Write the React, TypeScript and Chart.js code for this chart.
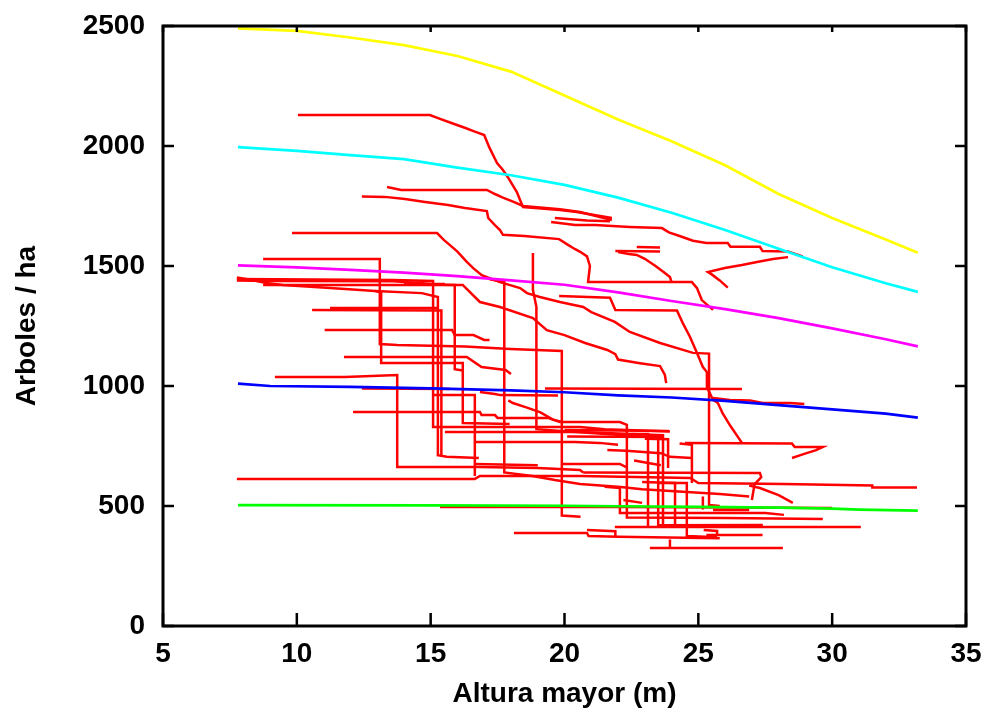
import React, { useEffect, useRef } from "react";
import { Chart, registerables } from "chart.js";

Chart.register(...registerables);

type Pt = [number, number];

// Axis ticks
const xTicks = [5, 10, 15, 20, 25, 30, 35];
const yTicks = [0, 500, 1000, 1500, 2000, 2500];
const xTitle = "Altura mayor (m)";
const yTitle = "Arboles / ha";

// Reference curves
const yellowCurve: Pt[] = [[7.8,2490],[10,2480],[12,2452],[14,2420],[16,2375],[18,2310],[20,2210],[22,2110],[24,2020],[26,1920],[28,1800],[30,1700],[32,1610],[33.2,1555]];
const cyanCurve: Pt[] = [[7.8,1995],[10,1980],[12,1962],[14,1945],[16,1910],[18,1878],[20,1838],[22,1785],[24,1722],[26,1650],[28,1572],[30,1495],[32,1428],[33.2,1392]];
const magentaCurve: Pt[] = [[7.8,1503],[10,1494],[12,1484],[14,1472],[16,1458],[18,1440],[20,1422],[22,1390],[24,1354],[26,1320],[28,1283],[30,1240],[32,1195],[33.2,1165]];
const blueCurve: Pt[] = [[7.8,1010],[9,1000],[12,996],[15,990],[18,982],[20,974],[22,961],[24,952],[26,938],[28,920],[30,903],[32,885],[33.2,868]];
const greenCurve: Pt[] = [[7.8,504],[15,503],[20,501],[22,499],[25,496],[28,493],[30,489],[31,485],[33.2,481]];

// Observed stand trajectories (red)
const r01: Pt[] = [[10.04,2129],[14.97,2129],[15.3,2115],[15.8,2095],[16.3,2075],[16.6,2062],[17.0,2046],[17.2,1992],[17.48,1929],[17.7,1900],[17.9,1867],[18.22,1808],[18.34,1775],[18.45,1746],[19.83,1733],[20.46,1725],[21.77,1700]];
const r02: Pt[] = [[13.37,1829],[13.9,1817],[17.1,1817],[17.4,1800],[17.7,1785],[18.1,1767],[18.45,1750],[19.3,1742],[19.83,1736],[20.58,1725],[21.77,1692]];
const r03: Pt[] = [[12.43,1790],[13.29,1788],[14.04,1779],[14.79,1767],[15.65,1754],[16.28,1742],[17.1,1729],[17.15,1700],[17.4,1670],[17.59,1650],[17.7,1630],[18.5,1625],[19.8,1612],[20.1,1590],[20.4,1570],[20.6,1558],[20.84,1540],[20.95,1500],[20.88,1433],[24.76,1433],[24.95,1408],[25.13,1358],[25.55,1317]];
const r04: Pt[] = [[9.82,1637],[15.24,1637],[15.5,1608],[15.72,1587],[16.0,1560],[16.35,1517],[16.6,1490],[16.91,1462],[17.59,1433],[18.34,1408],[18.6,1387],[19.08,1371],[19.83,1350],[20.7,1329],[21.0,1308],[21.88,1267],[22.44,1225],[23.57,1179],[24.8,1138],[25.4,1135],[25.4,504],[25.8,500]];
const r05: Pt[] = [[19.8,1375],[21.7,1368],[21.9,1317],[24.2,1315],[24.42,1262],[24.69,1204],[24.95,1138],[25.17,1079],[25.32,1058],[25.32,996],[25.55,942],[25.73,929],[25.9,888],[26.2,833],[26.63,763]];
const r06: Pt[] = [[28.35,1537],[27.79,1529],[27.19,1517],[26.63,1504],[25.99,1492],[25.36,1475],[25.5,1465],[25.8,1440],[26.1,1410]];
const r07: Pt[] = [[19.5,1683],[20.4,1671],[21.14,1671],[22.44,1663],[23.64,1658],[23.9,1640],[24.3,1625],[24.8,1605],[25.3,1596],[26.1,1596],[26.2,1580],[27.3,1580],[27.4,1562],[28.35,1560],[28.9,1540]];
const r08: Pt[] = [[21.9,1562],[23.57,1560]];
const r09: Pt[] = [[22.7,1579],[23.57,1577]];
const r10: Pt[] = [[22.0,1558],[22.4,1550],[22.7,1546],[23.0,1530],[23.4,1500],[23.7,1475],[23.94,1454],[24.0,1433]];
const r11: Pt[] = [[7.76,1452],[8.32,1442],[8.85,1429],[9.48,1421],[11.24,1408],[12.92,1396],[13.15,1390],[13.15,1096],[16.2,1096],[16.2,846],[17.95,842]];
const r12: Pt[] = [[12.92,1396],[14.67,1387],[15.27,1371],[15.27,712],[15.6,705],[16.8,700]];
const r13: Pt[] = [[7.76,1446],[13.6,1442],[15.09,1438],[15.09,829],[20.58,829],[21.5,820],[23.94,810]];
const r14: Pt[] = [[7.76,1440],[9.0,1438],[13.6,1436],[15.1,1425],[15.53,1425]];
const r15: Pt[] = [[10.57,1317],[15.4,1315],[15.4,705]];
const r16: Pt[] = [[8.74,1421],[16.2,1421],[16.28,1412],[16.84,1350],[17.59,1329],[18.82,1283],[19.34,1233],[20.0,1212],[20.77,1179],[21.6,1150],[21.9,1133],[22.0,1110],[22.82,1095],[23.57,1083],[23.75,1046],[23.8,1012]];
const r17: Pt[] = [[14.0,1425],[15.9,1421],[15.9,1070],[16.2,1065]];
const r18: Pt[] = [[8.74,1529],[13.1,1529],[13.1,1175],[13.75,1171],[16.28,1165],[17.98,1154],[19.9,1146],[19.9,460],[20.6,455]];
const r19: Pt[] = [[11.04,1233],[15.8,1233],[15.9,1212],[16.6,1212],[17.0,1192],[17.2,1192]];
const r20: Pt[] = [[11.76,1121],[16.35,1121],[16.9,1079],[17.8,1067],[18.0,1050]];
const r21: Pt[] = [[17.9,940],[18.07,929],[18.6,910],[19.1,890],[19.57,860],[19.9,850]];
const r22: Pt[] = [[9.18,1038],[11.8,1038],[13.75,1046],[13.75,663],[16.8,662],[19.0,658],[20.58,650],[20.7,640]];
const r23: Pt[] = [[12.43,990],[15.72,988]];
const r24: Pt[] = [[19.27,990],[26.63,988]];
const r25: Pt[] = [[15.09,962],[16.65,962],[16.65,625]];
const r26: Pt[] = [[16.84,975],[17.4,967],[17.6,962],[19.76,960]];
const r27: Pt[] = [[12.1,892],[16.84,892],[16.9,879],[17.4,879],[17.5,867],[19.38,867],[19.83,850],[22.07,850],[22.33,838],[22.33,452],[26.0,450],[29.65,446]];
const r28: Pt[] = [[15.53,808],[20.58,808],[22.5,800],[23.12,800],[23.12,413]];
const r29: Pt[] = [[16.65,767],[20.4,767],[21.3,763],[22.0,755]];
const r30: Pt[] = [[16.65,675],[19.0,670]];
const r31: Pt[] = [[17.2,1445],[17.75,1433],[17.75,640],[18.8,625],[19.64,608],[20.58,592],[22.1,579],[22.9,570],[25.8,550],[26.9,540]];
const r32: Pt[] = [[18.82,1554],[18.82,1400],[18.95,1330],[18.95,820],[19.6,815],[23.5,785],[23.5,420],[27.41,421]];
const r33: Pt[] = [[7.76,613],[16.65,613],[16.84,625],[20.58,625],[24.7,617],[25.0,596],[28.16,592],[31.5,585],[31.5,577],[33.17,577]];
const r34: Pt[] = [[15.35,496],[22.1,496],[30.0,492]];
const r35: Pt[] = [[18.11,388],[20.84,388],[20.9,375],[22.0,372],[25.8,366]];
const r36: Pt[] = [[25.3,379],[27.4,379]];
const r37: Pt[] = [[21.88,413],[31.07,413]];
const r38: Pt[] = [[23.19,325],[28.16,325]];
const r39: Pt[] = [[23.94,360],[23.94,325]];
const r40: Pt[] = [[21.5,580],[22.07,575],[22.07,471],[27.5,471],[28.2,463]];
const r41: Pt[] = [[22.5,800],[23.68,795],[23.68,415]];
const r42: Pt[] = [[23.0,780],[23.87,778],[23.87,658]];
const r43: Pt[] = [[24.3,760],[24.76,755],[24.76,596]];
const r44: Pt[] = [[23.5,596],[24.57,596],[24.57,375],[25.7,370]];
const r45: Pt[] = [[22.9,600],[24.13,596],[24.13,413]];
const r46: Pt[] = [[20.7,640],[27.3,638],[27.35,620],[27.1,590],[27.0,525]];
const r47: Pt[] = [[21.6,733],[22.3,730],[23.6,720],[23.94,705],[24.76,700]];
const r48: Pt[] = [[22.6,690],[23.6,670]];
const r49: Pt[] = [[24.5,763],[28.5,760],[28.6,746],[29.65,746],[29.4,733],[28.9,715],[28.5,700]];
const r50: Pt[] = [[25.55,950],[26.18,942],[26.93,940],[27.41,929],[28.42,929],[28.96,925]];
const r51: Pt[] = [[26.9,585],[27.3,575],[28.0,545],[28.53,513]];
const r52: Pt[] = [[25.55,483],[26.9,483]];
const r53: Pt[] = [[19.9,675],[22.07,675],[22.3,662]];
const r54: Pt[] = [[20.0,817],[23.9,812]];
const r55: Pt[] = [[20.1,790],[23.7,787]];
const r56: Pt[] = [[25.17,540],[25.17,485]];
const r57: Pt[] = [[20.84,400],[21.9,395],[21.9,372]];
const r58: Pt[] = [[25.2,400],[25.7,396],[25.7,375]];
const r59: Pt[] = [[11.24,1325],[15.27,1325]];
const r60: Pt[] = [[19.64,1700],[20.84,1690],[21.7,1686]];
const r61: Pt[] = [[22.2,525],[22.9,513]];

const curves = [
  { data: yellowCurve, color: "#ffff00" },
  { data: cyanCurve, color: "#00ffff" },
  { data: magentaCurve, color: "#ff00ff" },
  { data: blueCurve, color: "#0000ff" },
  { data: greenCurve, color: "#00ff00" },
];

const redTrajectories: Pt[][] = [
  r01, r02, r03, r04, r05, r06, r07, r08, r09, r10, r11, r12, r13, r14, r15, r16, r17, r18, r19, r20,
  r21, r22, r23, r24, r25, r26, r27, r28, r29, r30, r31, r32, r33, r34, r35, r36, r37, r38, r39, r40,
  r41, r42, r43, r44, r45, r46, r47, r48, r49, r50, r51, r52, r53, r54, r55, r56, r57, r58, r59, r60, r61,
];

const FONT = "'Liberation Sans', Arial, sans-serif";

const frameTicks = {
  id: "frameTicks",
  afterDatasetsDraw(chart: any) {
    const { ctx, chartArea, scales } = chart;
    const { left, right, top, bottom } = chartArea;
    const xs = scales.x;
    const ys = scales.y;
    ctx.save();
    ctx.strokeStyle = "#000";
    ctx.lineWidth = 2.5;
    ctx.beginPath();
    xs.ticks.forEach((t: any) => {
      const p = xs.getPixelForValue(t.value);
      ctx.moveTo(p, bottom);
      ctx.lineTo(p, bottom - 13);
      ctx.moveTo(p, top);
      ctx.lineTo(p, top + 6);
    });
    ys.ticks.forEach((t: any) => {
      const p = ys.getPixelForValue(t.value);
      ctx.moveTo(left, p);
      ctx.lineTo(left + 11, p);
      ctx.moveTo(right, p);
      ctx.lineTo(right - 11, p);
    });
    ctx.stroke();
    ctx.lineWidth = 3;
    ctx.strokeRect(left, top, right - left, bottom - top);
    ctx.restore();
  },
};

export default function App() {
  const ref = useRef<HTMLCanvasElement | null>(null);

  useEffect(() => {
    if (!ref.current) return;
    const toXY = (arr: Pt[]) => arr.map(([x, y]) => ({ x, y }));
    const datasets: any[] = [
      ...curves.map((c) => ({
        data: toXY(c.data),
        borderColor: c.color,
        backgroundColor: c.color,
        borderWidth: 2.7,
        showLine: true,
        pointRadius: 0,
        fill: false,
        tension: 0,
      })),
      ...redTrajectories.map((t) => ({
        data: toXY(t),
        borderColor: "#ff0000",
        backgroundColor: "#ff0000",
        borderWidth: 2.5,
        showLine: true,
        pointRadius: 0,
        fill: false,
        tension: 0,
        borderJoinStyle: "miter",
        borderCapStyle: "butt",
      })),
    ];

    const tickFont = { family: FONT, size: 28, weight: "bold" };

    const chart = new Chart(ref.current, {
      type: "scatter",
      data: { datasets },
      plugins: [frameTicks],
      options: {
        animation: false,
        responsive: false,
        devicePixelRatio: 1,
        layout: { padding: { top: 26, right: 26, left: 0, bottom: 0 } },
        plugins: { legend: { display: false }, tooltip: { enabled: false } },
        scales: {
          x: {
            type: "linear",
            min: 5,
            max: 35,
            afterBuildTicks: (s: any) => {
              s.ticks = xTicks.map((v) => ({ value: v }));
            },
            afterFit: (s: any) => {
              s.height = 92;
              s.paddingLeft = 0;
              s.paddingRight = 0;
            },
            grid: { display: false, drawTicks: false },
            border: { display: false },
            ticks: {
              autoSkip: false,
              maxRotation: 0,
              padding: 11,
              color: "#000",
              font: tickFont,
              callback: (v: any) => String(v),
            },
            title: {
              display: true,
              text: xTitle,
              color: "#000",
              font: tickFont,
              padding: { top: 0, bottom: 7 },
            },
          },
          y: {
            type: "linear",
            min: 0,
            max: 2500,
            afterBuildTicks: (s: any) => {
              s.ticks = yTicks.map((v) => ({ value: v }));
            },
            afterFit: (s: any) => {
              s.width = 163;
              s.paddingTop = 0;
              s.paddingBottom = 0;
            },
            grid: { display: false, drawTicks: false },
            border: { display: false },
            ticks: {
              autoSkip: false,
              padding: 18,
              color: "#000",
              font: tickFont,
              callback: (v: any) => String(v),
            },
            title: {
              display: true,
              text: yTitle,
              color: "#000",
              font: tickFont,
              padding: { top: 10, bottom: 0 },
            },
          },
        },
      } as any,
    });
    return () => chart.destroy();
  }, []);

  return (
    <canvas
      ref={ref}
      width={992}
      height={718}
      style={{ display: "block", position: "absolute", left: 0, top: 0 }}
    />
  );
}
